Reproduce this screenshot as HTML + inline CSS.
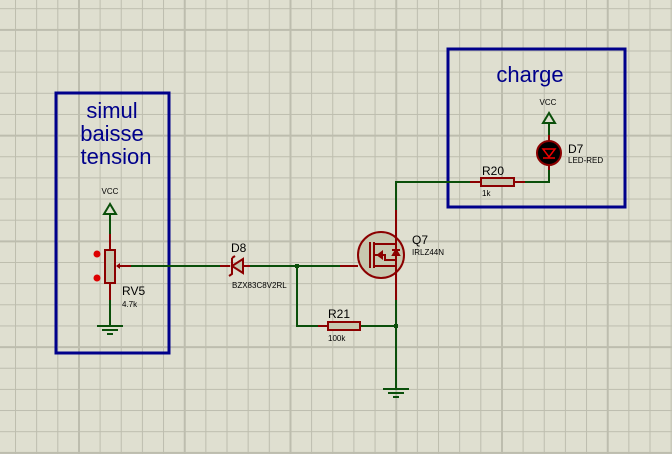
<!DOCTYPE html>
<html><head><style>body{margin:0;background:#dfdfd0}svg{display:block}text{font-family:"Liberation Sans",sans-serif}</style></head><body>
<svg width="672" height="454" viewBox="0 0 672 454" xmlns="http://www.w3.org/2000/svg">
<defs>
<pattern id="mi" x="15" y="8.2" width="21.15" height="21.15" patternUnits="userSpaceOnUse">
<path d="M0.5 0V21.15M0 0.5H21.15" stroke="#bdbdae" stroke-width="1" fill="none"/>
</pattern>
<pattern id="ma" x="78" y="28.9" width="105.75" height="105.75" patternUnits="userSpaceOnUse">
<path d="M1 0V105.75M0 1H105.75" stroke="#bdbdae" stroke-width="2" fill="none"/>
</pattern>
</defs>
<rect width="672" height="454" fill="#dfdfd0"/>
<rect width="672" height="454" fill="url(#mi)"/>
<rect width="672" height="454" fill="url(#ma)"/>
<!-- boxes -->
<rect x="56" y="93" width="113" height="260" fill="none" stroke="#00008b" stroke-width="3"/>
<rect x="448" y="49" width="177" height="158" fill="none" stroke="#00008b" stroke-width="3"/>
<text x="112" y="118" font-size="22" fill="#00008b" text-anchor="middle">simul</text>
<text x="112" y="141" font-size="22" fill="#00008b" text-anchor="middle">baisse</text>
<text x="116" y="164" font-size="22" fill="#00008b" text-anchor="middle">tension</text>
<text x="530" y="82" font-size="22" fill="#00008b" text-anchor="middle">charge</text>
<g fill="none" stroke-width="2">
<g stroke="#0a4f0a">
<path d="M110 215V234M110 300V325M131 266H220M250 266H340M297 266V326H318M360 326H396M396 300V388M396 210V182H470M525 182H549V170M549 122V135"/>
</g>
<g stroke="#8b0000">
<path d="M110 234V250M110 283V300M117 266H131M220 266H230M243 266H250M340 266H358M318 326H328M359 326H360M470 182H481M514 182H525M549 170V165M549 141V135M396 232V210M396 276V300"/>
</g>
</g>
<g stroke="#0a4f0a" stroke-width="2" fill="none">
<path d="M110 204L104 214H116Z"/><path d="M549 113L543 123H555Z"/>
<path d="M383 389H409M388 393H404M393 397H399"/>
<path d="M97 326H123M102 330H118M107 334H113"/>
</g>
<text x="110" y="194" font-size="8" text-anchor="middle" fill="#000">VCC</text>
<text x="548" y="105" font-size="8" text-anchor="middle" fill="#000">VCC</text>
<rect x="105" y="250" width="10" height="33" fill="#c8c8b0" stroke="#8b0000" stroke-width="2"/>
<path d="M116 266l4 -3v6z" fill="#8b0000"/>
<circle cx="97" cy="254" r="3.5" fill="#d00"/><circle cx="97" cy="278" r="3.5" fill="#d00"/>
<text x="122" y="295" font-size="12">RV5</text><text x="122" y="307" font-size="8">4.7k</text>
<path d="M243 259L232 266L243 273Z" fill="#c8c8b0" stroke="#8b0000" stroke-width="2"/>
<path d="M232 258V274l-3 2M232 258l3-2" stroke="#8b0000" stroke-width="2" fill="none"/>
<text x="231" y="252" font-size="12">D8</text><text x="232" y="288" font-size="8">BZX83C8V2RL</text>
<rect x="295" y="264" width="4" height="4" fill="#0a4f0a"/><rect x="394" y="324" width="4" height="4" fill="#0a4f0a"/>
<rect x="328" y="322" width="32" height="8" fill="#c8c8b0" stroke="#8b0000" stroke-width="2"/>
<text x="328" y="318" font-size="12">R21</text><text x="328" y="341" font-size="8">100k</text>
<rect x="481" y="178" width="33" height="8" fill="#c8c8b0" stroke="#8b0000" stroke-width="2"/>
<text x="482" y="175" font-size="12">R20</text><text x="482" y="196" font-size="8">1k</text>
<circle cx="381" cy="255" r="23" fill="#c8c8b0" stroke="#8b0000" stroke-width="2"/>
<g stroke="#8b0000" stroke-width="2" fill="none">
<path d="M370 242V268M374 242V268M374 244H396M374 266H396M374 255H385V260H396M396 232V276"/>
<path d="M378 255l4-3v6z"/><path d="M392 250h8M396 250l-3 5h6z"/>
</g>
<text x="412" y="244" font-size="12">Q7</text><text x="412" y="255" font-size="8">IRLZ44N</text>
<circle cx="549" cy="153" r="12" fill="#000" stroke="#8b0000" stroke-width="2"/>
<path d="M543 149H555L549 157Z" fill="none" stroke="#e00" stroke-width="1.5"/><path d="M543 158H555" stroke="#e00" stroke-width="1.5"/>
<text x="568" y="153" font-size="12">D7</text><text x="568" y="163" font-size="8">LED-RED</text>
</svg>
</body></html>
